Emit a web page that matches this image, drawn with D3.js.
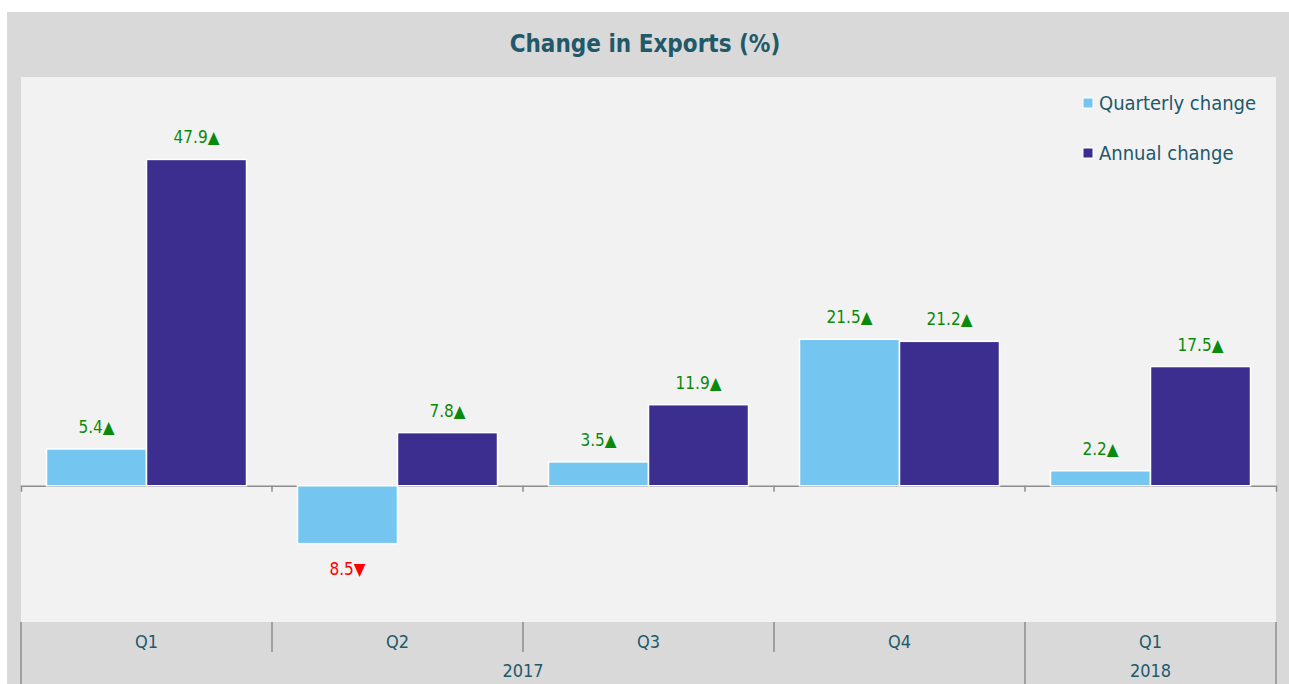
<!DOCTYPE html>
<html>
<head>
<meta charset="utf-8">
<script src="https://cdn.jsdelivr.net/npm/d3@7"></script>
<style>
	body { margin: 0; background: #ffffff; }
	svg { display: block; }
</style>
</head>
<body>
<svg id="chart"></svg>
<script>
var quarters = ["Q1", "Q2", "Q3", "Q4", "Q1"];
var years = [{ "label": "2017", "from": 0, "to": 4 }, { "label": "2018", "from": 4, "to": 5 }];
var quarterly = [5.4, -8.5, 3.5, 21.5, 2.2];
var annual = [47.9, 7.8, 11.9, 21.2, 17.5];
var seriesNames = ["Quarterly change", "Annual change"];

var colors = {
	"quarterly" : "#74c6f0",
	"annual" : "#3b2e8e",
	"up" : "#0a8a0a",
	"down" : "#ff0000",
	"text" : "#22596a"
};

var w = 1289, h = 684;
var font = "'DejaVu Sans Condensed', 'DejaVu Sans', sans-serif";

var svg = d3.select("#chart")
	.attr("width", w)
	.attr("height", h);

// outer panel + plot area
svg.append("rect").attr("x", 7).attr("y", 12).attr("width", w - 7).attr("height", h - 12).style("fill", "#d9d9d9");
svg.append("rect").attr("x", 21).attr("y", 77).attr("width", 1255).attr("height", 545).style("fill", "#f2f2f2");

svg.append("text")
	.attr("x", 645)
	.attr("y", 52)
	.attr("text-anchor", "middle")
	.attr("font-family", font)
	.attr("font-size", "24px")
	.attr("font-weight", "bold")
	.style("fill", colors.text)
	.text("Change in Exports (%)");

var x = d3.scaleBand()
	.domain(d3.range(quarters.length))
	.range([21, 1276]);

var inner = d3.scaleBand()
	.domain(["quarterly", "annual"])
	.range([0, x.bandwidth()])
	.paddingOuter(0.255)
	.paddingInner(0);

var y = d3.scaleLinear()
	.domain([-20, 60])
	.range([622, 77]);

var data = [];
quarters.forEach(function(q, i) {
	data.push({ "i": i, "key": "quarterly", "value": quarterly[i] });
	data.push({ "i": i, "key": "annual", "value": annual[i] });
});

// zero axis with ticks
var axis = svg.append("g").attr("transform", "translate(0," + y(0) + ")");
axis.call(d3.axisBottom(x).tickValues([]).tickSizeOuter(6));
axis.selectAll("path").attr("stroke", "#8c8c8c").attr("stroke-width", 1.5);

var bars = svg.selectAll("rect.bar")
	.data(data)
	.enter().append("rect")
	.attr("class", "bar")
	.attr("x", function(d) { return x(d.i) + inner(d.key); })
	.attr("width", inner.bandwidth())
	.attr("y", function(d) { return y(Math.max(0, d.value)); })
	.attr("height", function(d) { return Math.abs(y(d.value) - y(0)); })
	.style("fill", function(d) { return colors[d.key]; })
	.style("stroke", "#ffffff")
	.style("stroke-width", 1.5);

// inner ticks at band boundaries
svg.selectAll("line.tick0")
	.data(d3.range(1, quarters.length))
	.enter().append("line")
	.attr("x1", function(d) { return x(d); })
	.attr("x2", function(d) { return x(d); })
	.attr("y1", y(0))
	.attr("y2", y(0) + 6)
	.attr("stroke", "#8c8c8c")
	.attr("stroke-width", 1.5);

svg.selectAll("text.value")
	.data(data)
	.enter().append("text")
	.attr("class", "value")
	.attr("x", function(d) { return x(d.i) + inner(d.key) + inner.bandwidth() / 2; })
	.attr("y", function(d) { return d.value >= 0 ? y(d.value) - 16 : y(d.value) + 31; })
	.attr("text-anchor", "middle")
	.attr("font-family", font)
	.attr("font-size", "17px")
	.style("fill", function(d) { return d.value >= 0 ? colors.up : colors.down; })
	.text(function(d) { return Math.abs(d.value).toFixed(1) + (d.value >= 0 ? "\u25B2" : "\u25BC"); });

// category axis
svg.selectAll("text.quarter")
	.data(quarters)
	.enter().append("text")
	.attr("class", "quarter")
	.attr("x", function(d, i) { return x(i) + x.bandwidth() / 2; })
	.attr("y", 648)
	.attr("text-anchor", "middle")
	.attr("font-family", font)
	.attr("font-size", "18px")
	.style("fill", colors.text)
	.text(function(d) { return d; });

svg.selectAll("line.qdiv")
	.data(d3.range(0, quarters.length + 1))
	.enter().append("line")
	.attr("x1", function(d) { return d < quarters.length ? x(d) : x(d - 1) + x.bandwidth(); })
	.attr("x2", function(d) { return d < quarters.length ? x(d) : x(d - 1) + x.bandwidth(); })
	.attr("y1", 622)
	.attr("y2", function(d) { return (d === 0 || d === 4 || d === 5) ? h : 652; })
	.attr("stroke", "#8c8c8c")
	.attr("stroke-width", 1.5);

svg.selectAll("text.year")
	.data(years)
	.enter().append("text")
	.attr("class", "year")
	.attr("x", function(d) { return (x(d.from) + x(d.to - 1) + x.bandwidth()) / 2; })
	.attr("y", 677)
	.attr("text-anchor", "middle")
	.attr("font-family", font)
	.attr("font-size", "18px")
	.style("fill", colors.text)
	.text(function(d) { return d.label; });

// legend
var legend = svg.selectAll("g.legend")
	.data(["quarterly", "annual"])
	.enter().append("g")
	.attr("class", "legend")
	.attr("transform", function(d, i) { return "translate(1083," + (103 + i * 50) + ")"; });

legend.append("rect")
	.attr("x", 0)
	.attr("y", -5)
	.attr("width", 10)
	.attr("height", 10)
	.style("fill", function(d) { return colors[d]; })
	.style("stroke", "#ffffff")
	.style("stroke-width", 1);

legend.append("text")
	.attr("x", 16)
	.attr("y", 7)
	.attr("font-family", font)
	.attr("font-size", "20px")
	.style("fill", colors.text)
	.text(function(d, i) { return seriesNames[i]; });
</script>
</body>
</html>
